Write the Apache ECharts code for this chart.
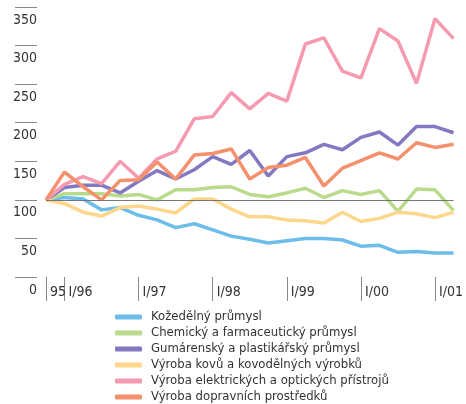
<!DOCTYPE html>
<html>
<head>
<meta charset="utf-8">
<script src="https://cdn.jsdelivr.net/npm/echarts@6/dist/echarts.min.js"></script>
<style>
  html, body { margin: 0; padding: 0; background: #fff; }
  #chart { width: 466px; height: 404px; }
</style>
</head>
<body>
<div id="chart"></div>
<script>
// kvartaly, 1995 = 100
const categories = ['95',
  'I/96', 'II/96', 'III/96', 'IV/96',
  'I/97', 'II/97', 'III/97', 'IV/97',
  'I/98', 'II/98', 'III/98', 'IV/98',
  'I/99', 'II/99', 'III/99', 'IV/99',
  'I/00', 'II/00', 'III/00', 'IV/00',
  'I/01', 'II/01']
const tickIdx = [0, 1, 5, 9, 13, 17, 21]

const names = [
  'Kožedělný průmysl',
  'Chemický a farmaceutický průmysl',
  'Gumárenský a plastikářský průmysl',
  'Výroba kovů a kovodělných výrobků',
  'Výroba elektrických a optických přístrojů',
  'Výroba dopravních prostředků'
]
const colors = ['#6cbde9', '#b8dc8c', '#8279c2', '#fed68c', '#f59ab0', '#f4906c']

const kozedelny = [100, 103, 101, 87, 90, 80, 74, 64, 69, 61, 53, 49, 44, 47, 50, 50, 48, 40, 41, 32, 33, 31, 31]
const chemicky = [100, 108, 108, 108, 105, 107, 100, 113, 113, 116, 117, 107, 104, 109, 115, 103, 112, 107, 112, 85, 114, 113, 86]
const gumarensky = [100, 116, 119, 119, 109, 124, 138, 127, 139, 156, 146, 164, 131, 156, 161, 172, 165, 181, 188, 171, 195, 195, 187]
const kovy = [100, 95, 84, 79, 90, 92, 88, 83, 101, 101, 88, 78, 78, 74, 73, 70, 84, 72, 76, 84, 82, 77, 84]
const elektricke = [100, 120, 130, 121, 150, 128, 153, 163, 205, 208, 239, 218, 238, 228, 302, 310, 267, 258, 322, 306, 251, 335, 309]
const dopravni = [100, 136, 117, 100, 125, 126, 149, 127, 158, 160, 166, 127, 142, 145, 155, 118, 141, 151, 161, 153, 174, 168, 172]

const values = [kozedelny, chemicky, gumarensky, kovy, elektricke, dopravni]
const font = "'Liberation Sans Narrow', 'DejaVu Sans Condensed', sans-serif"

let myChart = echarts.init(document.getElementById('chart'))

let series = []
for (let i = 0; i < names.length; i++) {
  series.push({
    name: names[i],
    type: 'line',
    data: values[i],
    symbol: 'none',
    lineStyle: { width: 3.5, color: colors[i] },
    itemStyle: { color: colors[i] }
  })
}
// vodorovna cara na urovni 100
series[0].markLine = {
  silent: true,
  symbol: 'none',
  label: { show: false },
  lineStyle: { color: '#777', width: 1, type: 'solid' },
  data: [{ yAxis: 100 }]
}

myChart.setOption({
  animation: false,
  grid: { left: 46, right: 10, top: 7, bottom: 127 },
  legend: {
    orient: 'vertical',
    left: 115,
    top: 310,
    padding: 0,
    itemGap: 2,
    itemWidth: 27,
    itemHeight: 5,
    icon: 'roundRect',
    textStyle: { fontFamily: font, fontSize: 13, lineHeight: 14, color: '#333', padding: [0, 0, 0, 4] },
    data: names
  },
  xAxis: {
    type: 'category',
    boundaryGap: false,
    data: categories,
    offset: 5,
    axisLine: { show: false },
    axisTick: {
      show: true,
      length: 24,
      interval: (idx) => tickIdx.includes(idx),
      lineStyle: { color: '#888', width: 1 }
    },
    axisLabel: {
      interval: (idx) => tickIdx.includes(idx),
      align: 'left',
      padding: [0, 0, 0, 4],
      margin: 3,
      fontFamily: font,
      fontSize: 14,
      color: '#333'
    },
    splitLine: { show: false }
  },
  yAxis: {
    type: 'value',
    min: 0,
    max: 350,
    interval: 50,
    offset: 9,
    axisLine: { show: false },
    axisTick: { show: true, length: 22, lineStyle: { color: '#888', width: 1 } },
    axisLabel: {
      margin: 0,
      verticalAlign: 'top',
      lineHeight: 16,
      padding: [5, 0, 0, 0],
      fontFamily: font,
      fontSize: 14,
      color: '#333'
    },
    splitLine: { show: false }
  },
  series: series
})
</script>
</body>
</html>
